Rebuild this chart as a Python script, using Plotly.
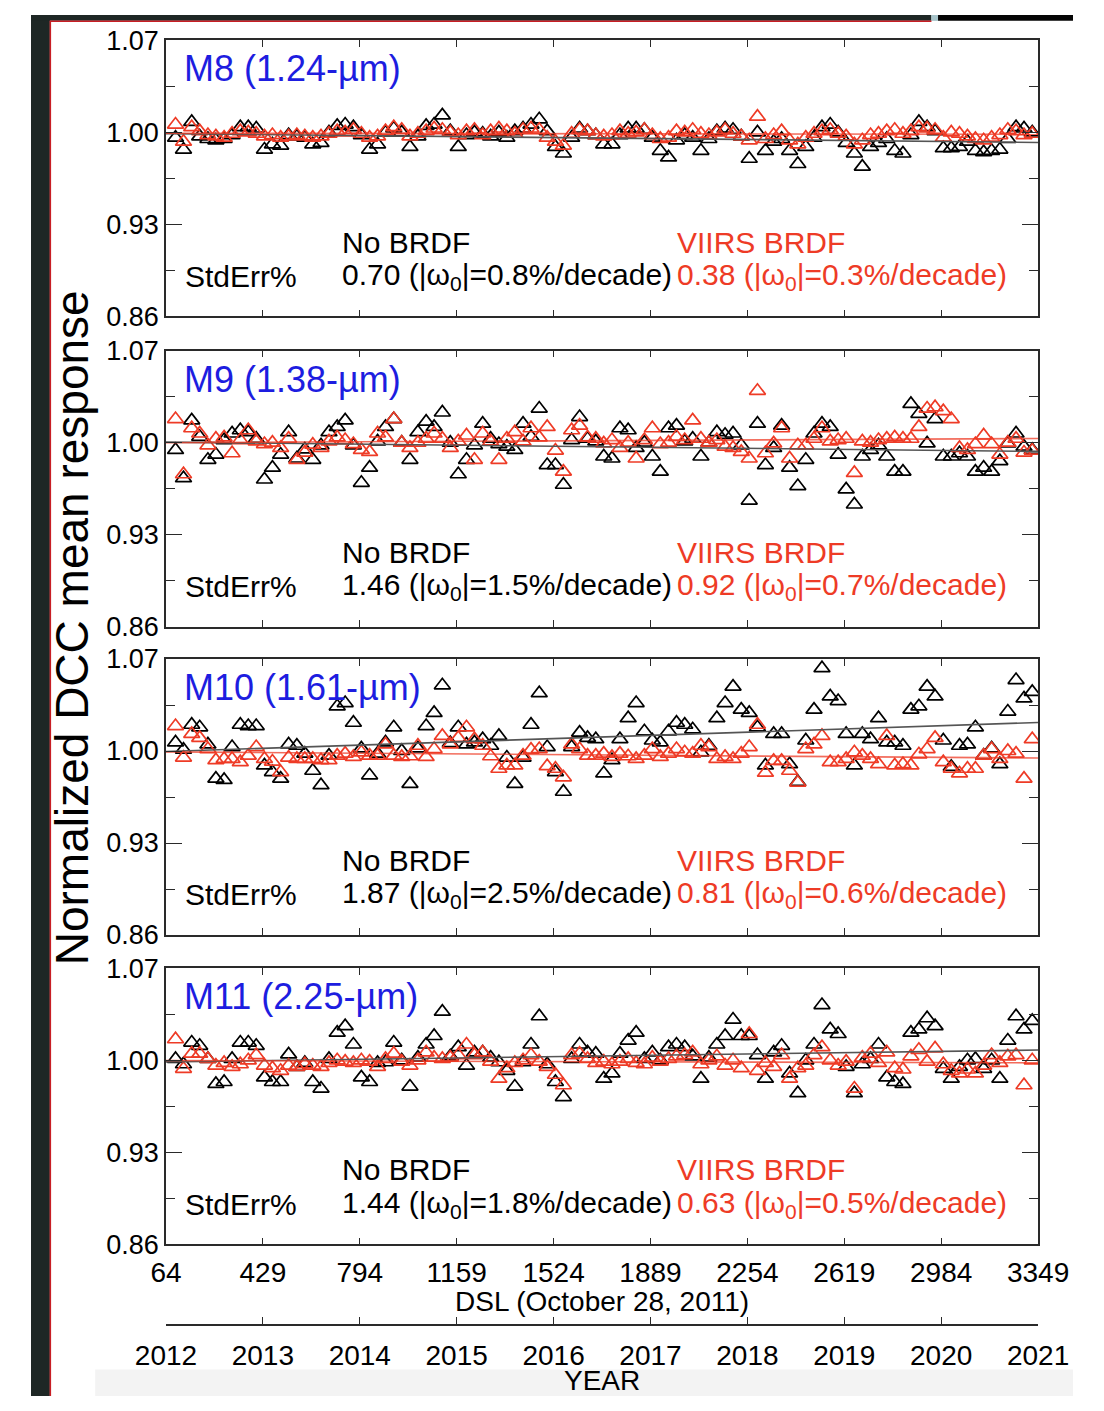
import numpy as np
import plotly.graph_objects as go

# ---------------- data ----------------
dsl = [100, 130, 161, 191, 222, 252, 283, 313, 344, 374,
       404, 435, 465, 496, 526, 557, 587, 617, 648, 678,
       709, 739, 770, 800, 831, 861, 891, 922, 952, 983,
       1013, 1044, 1074, 1105, 1135, 1165, 1196, 1226, 1257, 1287,
       1318, 1348, 1378, 1409, 1439, 1470, 1500, 1531, 1561, 1592,
       1622, 1652, 1683, 1713, 1744, 1774, 1805, 1835, 1866, 1896,
       1926, 1957, 1987, 2018, 2048, 2079, 2109, 2139, 2170, 2200,
       2231, 2261, 2292, 2322, 2353, 2383, 2413, 2444, 2474, 2505,
       2535, 2566, 2596, 2626, 2657, 2687, 2718, 2748, 2779, 2809,
       2840, 2870, 2900, 2931, 2961, 2992, 3022, 3053, 3083, 3113,
       3144, 3174, 3205, 3235, 3266, 3296, 3327]

m8_nobrdf = [0.996, 0.987, 1.008, 0.997, 0.995, 0.994, 0.995, 0.998, 1.004, 1.004,
             1.003, 0.987, 0.991, 0.990, 0.998, 0.997, 0.996, 0.991, 0.992, 1.000,
             1.005, 1.006, 1.004, 0.998, 0.987, 0.991, 1.000, 1.003, 1.000, 0.989,
             0.997, 1.005, 1.006, 1.013, 1.001, 0.989, 0.998, 1.000, 0.999, 0.997,
             1.000, 0.996, 1.001, 1.003, 1.006, 1.010, 1.001, 0.989, 0.984, 0.996,
             1.003, 1.001, 0.998, 0.991, 0.991, 0.998, 1.003, 1.003, 1.002, 0.996,
             0.986, 0.981, 0.994, 0.998, 0.996, 0.986, 0.995, 1.001, 1.003, 1.002,
             0.997, 0.980, 1.000, 0.986, 0.993, 0.995, 0.986, 0.976, 0.989, 0.996,
             1.004, 1.006, 1.000, 0.992, 0.984, 0.974, 0.989, 0.992, 0.995, 0.986,
             0.984, 0.998, 1.008, 1.004, 1.001, 0.988, 0.988, 0.989, 0.993, 0.986,
             0.985, 0.986, 0.987, 0.995, 1.004, 1.003, 1.000]
m8_viirs = [1.006, 0.993, 1.004, 1.001, 0.998, 0.997, 0.996, 0.999, 1.001, 1.000,
            0.999, 0.997, 0.998, 0.996, 0.997, 0.998, 0.997, 0.996, 0.997, 0.999,
            1.001, 1.000, 1.002, 0.999, 0.996, 0.997, 1.001, 1.004, 1.002, 0.997,
            0.999, 1.001, 1.003, 1.002, 1.000, 0.998, 1.001, 1.002, 0.998, 1.001,
            1.003, 1.001, 0.999, 1.002, 1.003, 1.002, 0.996, 0.993, 0.990, 0.999,
            1.002, 1.001, 0.998, 0.997, 0.998, 1.001, 0.999, 1.000, 1.002, 0.998,
            0.995, 0.996, 1.001, 1.000, 1.002, 0.999, 0.998, 1.000, 1.002, 0.999,
            0.997, 0.994, 1.012, 0.995, 0.998, 1.001, 0.994, 0.991, 0.996, 0.999,
            1.001, 1.002, 0.999, 0.997, 0.991, 0.994, 0.998, 0.999, 1.001, 1.002,
            0.999, 1.001, 1.004, 1.003, 1.002, 0.996, 1.000, 0.999, 0.997, 0.995,
            0.994, 0.996, 0.998, 1.002, 1.001, 0.998, 0.999]

m9_nobrdf = [0.9945, 0.973, 1.017, 1.0045, 0.987, 0.991, 1.002, 1.007, 1.0095, 1.008,
             1.003, 0.972, 0.981, 0.991, 1.008, 0.988, 0.995, 0.987, 0.998, 1.008,
             1.012, 1.017, 0.998, 0.9695, 0.981, 1.001, 1.012, 1.018, 1.000, 0.987,
             1.008, 1.016, 1.012, 1.023, 1.000, 0.976, 0.987, 0.998, 1.0145, 1.003,
             0.999, 0.997, 0.9945, 1.0145, 1.0045, 1.026, 0.983, 0.983, 0.968, 1.002,
             1.0195, 1.003, 1.001, 0.9895, 0.988, 1.011, 1.0095, 0.996, 1.000, 0.9895,
             0.978, 1.011, 1.013, 1.001, 1.003, 0.9895, 1.000, 1.008, 1.006, 1.007,
             0.998, 0.956, 1.0145, 0.983, 0.996, 1.013, 0.981, 0.967, 0.987, 1.007,
             1.0145, 1.012, 0.991, 0.9645, 0.953, 0.9895, 0.9945, 0.998, 0.9895, 0.978,
             0.978, 1.0295, 1.022, 0.9995, 1.018, 0.9895, 0.9895, 0.992, 0.9895, 0.978,
             0.981, 0.978, 0.986, 0.9995, 1.007, 0.997, 0.9945]
m9_viirs = [1.018, 0.976, 1.011, 1.007, 0.998, 1.003, 1.004, 0.992, 1.002, 1.0095,
            1.001, 0.999, 1.000, 0.996, 1.003, 0.987, 0.9925, 0.9985, 0.996, 1.001,
            1.004, 1.002, 0.999, 0.9945, 0.993, 1.007, 1.004, 1.018, 1.000, 0.996,
            1.000, 1.003, 1.007, 1.003, 0.996, 1.001, 1.0055, 0.987, 1.007, 1.001,
            0.987, 1.003, 1.008, 1.001, 1.011, 1.004, 1.012, 0.994, 0.978, 1.0095,
            1.013, 1.004, 1.003, 0.9995, 1.002, 0.996, 1.000, 0.988, 1.002, 1.011,
            0.999, 1.000, 1.0045, 1.002, 1.017, 1.003, 1.000, 1.002, 0.997, 0.996,
            0.993, 0.988, 1.0395, 0.992, 0.9995, 1.011, 0.988, 0.998, 0.998, 1.003,
            1.011, 1.001, 1.002, 1.003, 0.977, 1.001, 1.000, 1.002, 1.003, 1.004,
            1.003, 1.003, 1.012, 1.026, 1.027, 1.024, 1.018, 0.996, 0.9945, 0.999,
            1.0055, 0.999, 0.991, 1.000, 1.003, 0.9925, 0.994]

m10_nobrdf = [1.0065, 1.001, 1.020, 1.018, 1.005, 0.979, 0.978, 1.003, 1.020, 1.019,
              1.019, 0.989, 0.984, 0.979, 1.005, 1.004, 0.998, 0.985, 0.974, 0.9965,
              1.034, 1.0365, 1.0215, 1.002, 0.9815, 0.998, 1.0065, 1.018, 1.000, 0.975,
              1.002, 1.019, 1.029, 1.050, 1.006, 1.018, 1.005, 1.0065, 1.009, 1.004,
              1.0115, 0.995, 0.975, 0.995, 1.020, 1.044, 1.003, 0.984, 0.969, 1.003,
              1.014, 1.010, 1.009, 0.983, 0.993, 1.009, 1.025, 1.0365, 1.015, 1.008,
              1.0065, 1.015, 1.0215, 1.020, 1.0165, 0.999, 1.004, 1.025, 1.0365, 1.049,
              1.0315, 1.029, 1.018, 0.989, 1.013, 1.013, 0.990, 0.9765, 1.008, 1.0315,
              1.063, 1.0415, 1.038, 1.013, 0.989, 1.013, 1.009, 1.025, 1.0065, 1.0065,
              1.004, 1.0315, 1.034, 1.049, 1.0415, 1.008, 0.988, 1.004, 1.005, 1.018,
              0.9965, 1.002, 0.990, 1.030, 1.054, 1.040, 1.045]
m10_viirs = [1.019, 0.995, 1.013, 1.010, 1.0015, 0.993, 0.994, 0.994, 0.9915, 0.9965,
             1.003, 0.994, 0.992, 0.984, 0.995, 0.994, 0.994, 0.994, 0.993, 0.993,
             0.9965, 0.998, 0.9955, 0.999, 0.9965, 0.9965, 1.005, 0.9965, 0.9955, 0.996,
             1.004, 0.9955, 1.0015, 1.0115, 1.005, 1.010, 1.018, 1.009, 1.004, 0.996,
             0.9865, 0.989, 0.989, 0.9965, 1.001, 1.0015, 0.9885, 0.9865, 0.980, 1.005,
             1.0015, 0.9965, 0.9965, 0.998, 0.9955, 0.998, 0.996, 0.994, 0.9965, 1.0015,
             0.9955, 0.998, 1.0015, 0.999, 0.998, 1.004, 1.003, 0.994, 0.9955, 0.994,
             0.998, 1.003, 1.020, 0.9835, 0.9925, 0.9925, 0.985, 0.976, 1.0015, 1.005,
             1.0115, 0.9915, 0.9915, 0.994, 0.999, 0.9965, 0.994, 0.990, 1.0115, 0.989,
             0.990, 0.989, 0.9975, 1.0015, 1.010, 0.9915, 0.9865, 0.983, 0.9865, 0.9865,
             0.9965, 1.0015, 0.994, 1.000, 0.998, 0.979, 1.009]

m11_nobrdf = [1.001, 0.997, 1.0135, 1.011, 1.001, 0.982, 0.9835, 1.001, 1.0135, 1.0135,
              1.011, 0.987, 0.9835, 0.9835, 1.0045, 0.995, 0.998, 0.9835, 0.9785, 1.001,
              1.021, 1.026, 1.012, 0.987, 0.9835, 0.998, 0.9985, 1.0135, 1.000, 0.980,
              1.002, 1.012, 1.0185, 1.037, 1.003, 1.010, 0.996, 1.006, 1.006, 1.002,
              0.9985, 0.992, 0.980, 0.9985, 1.012, 1.0335, 0.997, 0.9835, 0.972, 1.001,
              1.012, 1.006, 1.005, 0.986, 0.990, 1.005, 1.015, 1.021, 1.001, 1.006,
              1.000, 1.010, 1.012, 1.010, 1.003, 0.986, 1.002, 1.012, 1.0185, 1.031,
              1.0185, 1.0185, 1.004, 0.986, 1.006, 1.011, 0.990, 0.975, 1.000, 1.012,
              1.042, 1.0235, 1.020, 0.995, 0.975, 0.997, 1.001, 1.012, 0.987, 0.9835,
              0.982, 1.021, 1.0235, 1.032, 1.026, 0.9935, 0.986, 0.995, 1.000, 1.001,
              0.9935, 1.000, 0.986, 1.015, 1.0335, 1.0235, 1.030]
m11_viirs = [1.016, 0.9935, 1.005, 1.005, 1.001, 0.996, 0.998, 0.995, 0.997, 1.000,
             1.004, 0.996, 0.994, 0.992, 0.996, 0.995, 0.997, 0.996, 0.995, 0.998,
             1.000, 0.999, 0.998, 1.000, 0.999, 0.995, 1.001, 1.005, 0.999, 0.996,
             1.000, 1.006, 1.002, 1.001, 1.002, 1.004, 1.012, 1.004, 1.006, 0.999,
             0.986, 0.994, 0.998, 1.000, 1.004, 0.999, 0.995, 0.989, 0.981, 1.004,
             1.005, 1.001, 0.998, 0.999, 0.997, 0.999, 1.001, 0.998, 0.997, 1.002,
             0.999, 1.001, 1.003, 1.004, 1.006, 0.997, 1.000, 1.003, 0.996, 1.000,
             0.994, 1.020, 0.992, 0.998, 0.995, 1.004, 0.986, 0.994, 0.996, 1.004,
             1.010, 1.000, 0.996, 0.999, 0.9785, 1.002, 1.005, 0.998, 1.006, 0.994,
             0.993, 1.003, 1.008, 0.999, 1.009, 0.997, 0.992, 0.990, 0.993, 0.990,
             0.996, 1.004, 0.998, 1.003, 1.004, 0.981, 1.000]

band_labels = ["M8 (1.24-µm)", "M9 (1.38-µm)", "M10 (1.61-µm)", "M11 (2.25-µm)"]
stderr_nobrdf = ["0.70", "1.46", "1.87", "1.44"]
omega_nobrdf = ["0.8", "1.5", "2.5", "1.8"]
stderr_viirs = ["0.38", "0.92", "0.81", "0.63"]
omega_viirs = ["0.3", "0.7", "0.6", "0.5"]

dsl_ticks = [64, 429, 794, 1159, 1524, 1889, 2254, 2619, 2984, 3349]
year_labels = ["2012", "2013", "2014", "2015", "2016", "2017", "2018", "2019", "2020", "2021"]
y_ticks = [0.86, 0.93, 1.00, 1.07]
y_minor = [0.895, 0.965, 1.035]
x_range = [64, 3349]
y_range = [0.86, 1.07]

series = [(m8_nobrdf, m8_viirs), (m9_nobrdf, m9_viirs),
          (m10_nobrdf, m10_viirs), (m11_nobrdf, m11_viirs)]

# ---------------- layout helpers ----------------
W, H = 1104, 1411
FONT = "Liberation Sans, Arial, Helvetica, sans-serif"
RED = "#ee3b26"
BLUE = "#1d1de0"
AX = "#2a2a2a"


def fx(p):
    return p / W


def fy(p):
    return 1 - p / H


plot_left, plot_right = 143, 1067
panel_tops = [26, 343, 658, 974]
panel_h = 282

fig = go.Figure()
layout = dict(
    width=W, height=H, autosize=False,
    margin=dict(l=0, r=0, t=0, b=0, pad=0),
    paper_bgcolor="white", plot_bgcolor="white",
    showlegend=False,
    font=dict(family=FONT, color="black"),
)

annotations = []


def ann(text, xp, yp, color="black", size=30, xanchor="left", angle=0):
    annotations.append(dict(text=text, x=fx(xp), y=fy(yp), xref="paper", yref="paper",
                            xanchor=xanchor, yanchor="middle", showarrow=False,
                            textangle=angle,
                            font=dict(family=FONT, size=size, color=color)))


for k in range(4):
    n = k + 1
    xa = "x" if n == 1 else f"x{n}"
    ya = "y" if n == 1 else f"y{n}"
    top = panel_tops[k]
    bot = top + panel_h
    layout[f"xaxis{'' if n == 1 else n}"] = dict(
        domain=[fx(plot_left), fx(plot_right)], range=x_range, anchor=ya,
        showline=True, linecolor=AX, linewidth=1.5, mirror="ticks",
        ticks="inside", ticklen=7, tickwidth=1.2, tickcolor=AX,
        tickmode="array", tickvals=dsl_ticks, ticktext=[str(v) for v in dsl_ticks],
        showticklabels=(n == 4), tickfont=dict(size=28, family=FONT, color="black"),
        ticklabelstandoff=2,
        showgrid=False, zeroline=False,
    )
    layout[f"yaxis{'' if n == 1 else n}"] = dict(
        domain=[fy(bot), fy(top)], range=y_range, anchor=xa,
        showline=True, linecolor=AX, linewidth=1.5, mirror="ticks",
        ticks="inside", ticklen=16, tickwidth=1.2, tickcolor=AX,
        tickmode="array", tickvals=y_ticks, ticktext=[f"{v:.2f}" for v in y_ticks],
        tickfont=dict(size=27, family=FONT, color="black"),
        minor=dict(tickmode="array", tickvals=y_minor, ticks="inside",
                   ticklen=9, tickwidth=1.2, tickcolor=AX),
        showgrid=False, zeroline=False,
    )

    nob, vii = series[k]
    xr = np.array(x_range, dtype=float)
    cb = np.polyfit(dsl, nob, 1)   # least-squares trend of the plotted data
    cr = np.polyfit(dsl, vii, 1)
    fig.add_trace(go.Scatter(x=dsl, y=nob, mode="markers", xaxis=xa, yaxis=ya,
                             marker=dict(symbol="triangle-up-open", size=14,
                                         color="black", line=dict(width=1.7, color="black")),
                             hoverinfo="skip"))
    fig.add_trace(go.Scatter(x=dsl, y=vii, mode="markers", xaxis=xa, yaxis=ya,
                             marker=dict(symbol="triangle-up-open", size=14,
                                         color=RED, line=dict(width=1.7, color=RED)),
                             hoverinfo="skip"))
    fig.add_trace(go.Scatter(x=xr, y=np.polyval(cb, xr), mode="lines", xaxis=xa, yaxis=ya,
                             line=dict(color="#555555", width=1.6), hoverinfo="skip"))
    fig.add_trace(go.Scatter(x=xr, y=np.polyval(cr, xr), mode="lines", xaxis=xa, yaxis=ya,
                             line=dict(color="rgba(238,59,38,0.75)", width=1.6), hoverinfo="skip"))

    ann(band_labels[k], 160, top + 29, BLUE, 36)
    ann("No BRDF", 327, top + 206)
    ann("StdErr%", 161, top + 241)
    ann(f"{stderr_nobrdf[k]} (|ω<sub>0</sub>|={omega_nobrdf[k]}%/decade)", 327, top + 241)
    ann("VIIRS BRDF", 682, top + 206, RED)
    ann(f"{stderr_viirs[k]} (|ω<sub>0</sub>|={omega_viirs[k]}%/decade)", 682, top + 241, RED)

# year axis (second x axis below the panels)
layout["xaxis5"] = dict(
    domain=[fx(plot_left), fx(plot_right)], range=x_range, anchor="y5",
    showline=True, linecolor=AX, linewidth=1.5,
    ticks="inside", ticklen=7, tickwidth=1.2, tickcolor=AX,
    tickmode="array", tickvals=dsl_ticks, ticktext=year_labels,
    tickfont=dict(size=28, family=FONT, color="black"), ticklabelstandoff=6,
    showgrid=False, zeroline=False,
)
layout["yaxis5"] = dict(domain=[fy(1337), fy(1335)], range=[0, 1], anchor="x5",
                        visible=False, showgrid=False, zeroline=False)
fig.add_trace(go.Scatter(x=dsl_ticks, y=[0] * len(dsl_ticks), mode="markers",
                         xaxis="x5", yaxis="y5", marker=dict(opacity=0),
                         hoverinfo="skip"))

# axis titles
mid = (plot_left + plot_right) / 2
ann("DSL (October 28, 2011)", mid, 1314, size=28, xanchor="center")
ann("YEAR", mid, 1395, size=28, xanchor="center")
ann("Normalized DCC mean response", 43, 626, size=46, xanchor="center", angle=-90)

layout["annotations"] = annotations

# page frame decoration (dark slide edge)
DARK = "#1e2725"
layout["shapes"] = [
    dict(type="rect", xref="paper", yref="paper", x0=fx(68), x1=1, y0=0, y1=fy(1384),
         fillcolor="#f3f3f3", line=dict(width=0), layer="below"),
    dict(type="rect", xref="paper", yref="paper", x0=0, x1=fx(20), y0=0, y1=1,
         fillcolor=DARK, line=dict(width=0), layer="above"),
    dict(type="rect", xref="paper", yref="paper", x0=0, x1=fx(954), y0=fy(6), y1=1,
         fillcolor=DARK, line=dict(width=0), layer="above"),
    dict(type="rect", xref="paper", yref="paper", x0=fx(954), x1=fx(961), y0=fy(6), y1=1,
         fillcolor="#a7c4ca", line=dict(width=0), layer="above"),
    dict(type="rect", xref="paper", yref="paper", x0=fx(961), x1=1, y0=fy(6), y1=1,
         fillcolor="#050505", line=dict(width=0), layer="above"),
    dict(type="line", xref="paper", yref="paper", x0=fx(20.5), x1=fx(20.5), y0=0, y1=fy(6),
         line=dict(color="#c81e24", width=1.5), layer="above"),
    dict(type="line", xref="paper", yref="paper", x0=fx(20), x1=fx(954), y0=fy(6.5), y1=fy(6.5),
         line=dict(color="#c81e24", width=1.5), layer="above"),
]

fig.update_layout(**layout)
fig.write_html(
    "out.html",
    post_script="document.body.style.margin='0';",
)
